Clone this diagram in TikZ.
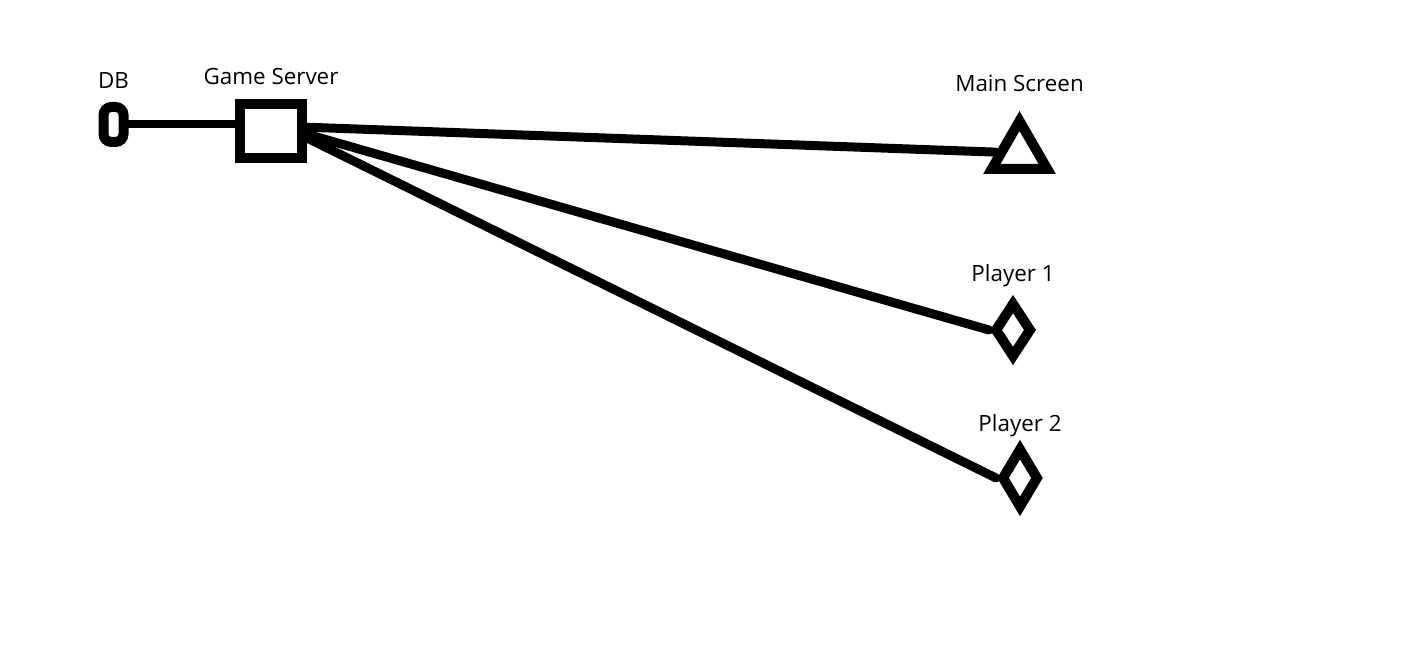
\documentclass[tikz,border=0pt]{standalone}
\usepackage{fontspec}
\setmainfont{Open Sans}
\usetikzlibrary{positioning,shapes.geometric}

\begin{document}
\begin{tikzpicture}[x=0.5pt,y=-0.5pt,line cap=round,node distance=8pt]
    \tikzstyle{thing}=[draw=black,line width=5pt,inner sep=0pt,line join=miter]
    \tikzstyle{db}=[thing,rounded corners=4pt,minimum width=10pt,minimum height=17.5pt]
    \tikzstyle{server}=[thing,minimum width=31pt,minimum height=27pt]
    \tikzstyle{screen}=[thing,regular polygon,regular polygon sides=3,minimum size=32pt]
    \tikzstyle{player}=[thing,diamond,minimum width=19pt]
    \tikzstyle{link}=[draw=black,line width=4.5pt,line cap=round]
    \tikzstyle{annot}=[inner sep=0pt,font=\fontsize{11.2}{13.4}\selectfont]

    \useasboundingbox (0,0) rectangle (1416,672);

    % Draw the boxes
    \node[db] (DB) at (113.5,124.5) {};
    \node[server] (GS) at (271,131) {};
    \node[screen] (MS) at (1019.5,153) {};
    \node[player,minimum height=28pt] (P-1) at (1013,330) {};
    \node[player,minimum height=30.5pt] (P-2) at (1020,478) {};

    % Connect the database with the server
    \draw[link,line width=4pt] (DB) -- (DB -| GS.west);

    % Connect the server with the screen and the players
    \draw[link] (GS.6) -- (MS);
    \draw[link] (GS.-5) -- (P-1.west);
    \draw[link] (GS.-11) -- (P-2.west);

    % Annotate the boxes
    \node[annot,above=6.5pt of DB] {DB};
    \node[annot,above=7pt of GS] {Game Server};
    \node[annot,above=9.5pt of MS] {Main Screen};
    \node[annot,above=5pt of P-1] {Player 1};
    \node[annot,above=2.5pt of P-2] {Player 2};
\end{tikzpicture}
\end{document}
